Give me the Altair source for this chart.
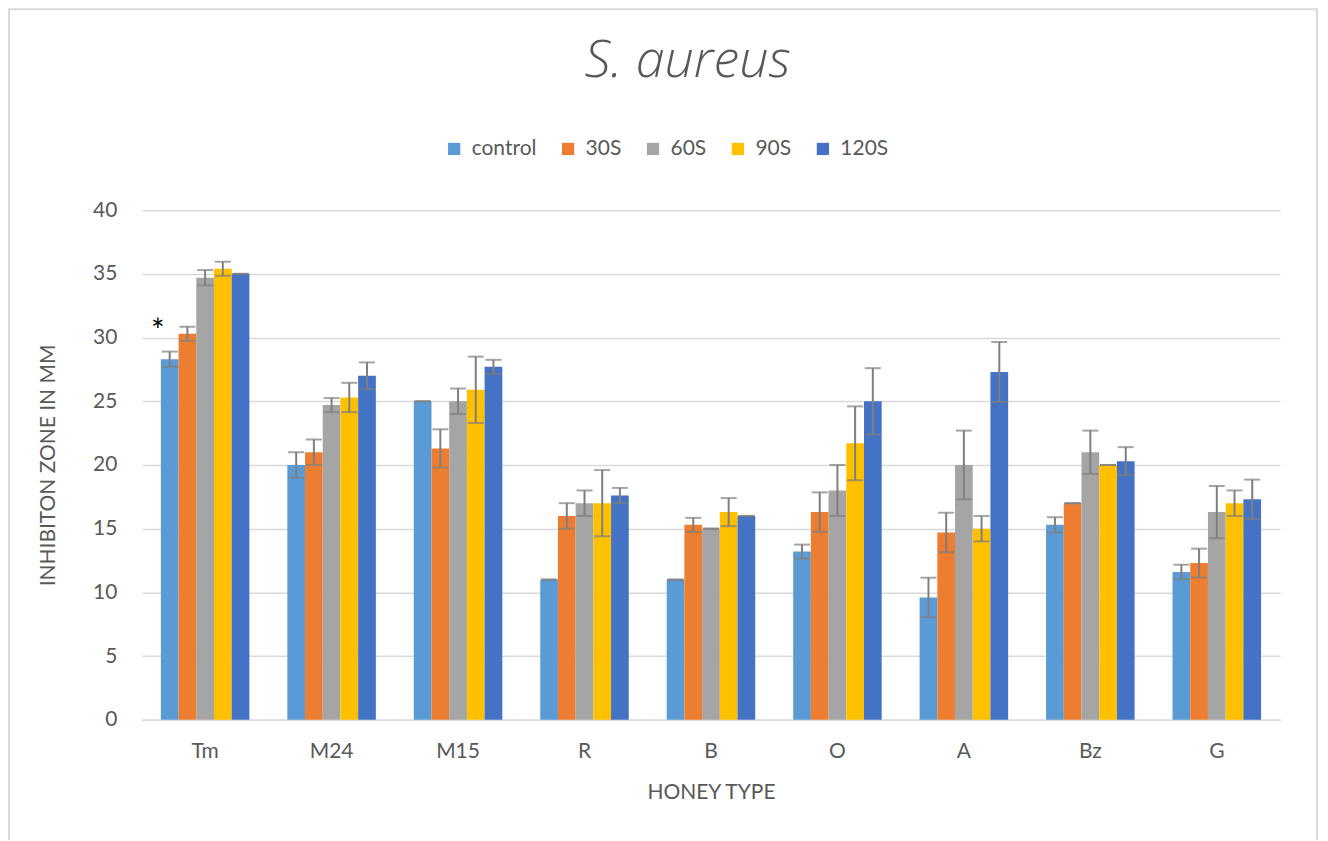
import altair as alt
import pandas as pd

honey = ["Tm", "M24", "M15", "R", "B", "O", "A", "Bz", "G"]
series = ["control", "30S", "60S", "90S", "120S"]
colors = ["#5B9BD5", "#ED7D31", "#A5A5A5", "#FFC000", "#4472C4"]

control = [28.3, 20.0, 25.0, 11.0, 11.0, 13.2, 9.6, 15.3, 11.6]
s30 = [30.3, 21.0, 21.3, 16.0, 15.3, 16.3, 14.7, 17.0, 12.3]
s60 = [34.7, 24.7, 25.0, 17.0, 15.0, 18.0, 20.0, 21.0, 16.3]
s90 = [35.4, 25.3, 25.9, 17.0, 16.3, 21.7, 15.0, 20.0, 17.0]
s120 = [35.0, 27.0, 27.7, 17.6, 16.0, 25.0, 27.3, 20.3, 17.3]

err_control = [0.6, 1.0, 0.0, 0.0, 0.0, 0.55, 1.55, 0.6, 0.57]
err_30 = [0.55, 1.0, 1.5, 1.0, 0.55, 1.55, 1.55, 0.0, 1.13]
err_60 = [0.6, 0.55, 1.0, 1.0, 0.0, 2.0, 2.7, 1.7, 2.05]
err_90 = [0.55, 1.15, 2.6, 2.6, 1.1, 2.9, 1.0, 0.0, 1.0]
err_120 = [0.0, 1.05, 0.55, 0.6, 0.0, 2.6, 2.35, 1.1, 1.55]

annot_honey = ["Tm"]
annot_series = ["control"]
annot_y = [31.1]
annot_text = ["*"]

title_text = "S. aureus"
y_title = "INHIBITON ZONE IN MM"
x_title = "HONEY TYPE"

vals = [control, s30, s60, s90, s120]
errs = [err_control, err_30, err_60, err_90, err_120]
rows = []
for s, v, e in zip(series, vals, errs):
    for h, vv, ee in zip(honey, v, e):
        rows.append({"honey": h, "series": s, "value": vv,
                     "lo": vv - ee, "hi": vv + ee})
df = pd.DataFrame(rows)
adf = pd.DataFrame({"honey": annot_honey, "series": annot_series,
                    "y": annot_y, "text": annot_text})

FONT = "Lato"
GREY = "#595959"
FS = 21

x_enc = alt.X("honey:N", sort=honey,
              scale=alt.Scale(paddingInner=0.3, paddingOuter=0.15),
              axis=alt.Axis(title=x_title, labelAngle=0, labelFontSize=FS,
                            labelColor=GREY, labelPadding=21, ticks=False,
                            domainColor="#d9d9d9", domainWidth=1.5,
                            titleFontSize=FS, titleFontWeight="normal",
                            titleColor=GREY, titlePadding=20,
                            labelFont=FONT, titleFont=FONT))
xo_enc = alt.XOffset("series:N", sort=series, scale=alt.Scale(paddingInner=0, paddingOuter=0))

base = alt.Chart(df)

bars = base.mark_bar().encode(
    x=x_enc,
    xOffset=xo_enc,
    y=alt.Y("value:Q", scale=alt.Scale(domain=[0, 40]),
            axis=alt.Axis(title=y_title, values=list(range(0, 41, 5)),
                          labelFontSize=FS, labelColor=GREY, labelPadding=25,
                          ticks=False, domain=False, gridColor="#d9d9d9",
                          gridWidth=1.5, titleFontSize=FS,
                          titleFontWeight="normal", titleColor=GREY,
                          titlePadding=34, labelFont=FONT, titleFont=FONT)),
    color=alt.Color("series:N", sort=series,
                    scale=alt.Scale(domain=series, range=colors),
                    legend=alt.Legend(title=None, orient="none",
                                      direction="horizontal", columns=5,
                                      legendX=302, legendY=-72,
                                      symbolType="square", symbolSize=150,
                                      symbolStrokeWidth=0,
                                      labelFontSize=FS, labelColor=GREY,
                                      labelFont=FONT, columnPadding=21,
                                      labelOffset=7)),
)

rules = base.mark_rule(color="#7F7F7F", strokeWidth=2).encode(
    x=alt.X("honey:N", sort=honey), xOffset=alt.XOffset("series:N", sort=series),
    y="lo:Q", y2="hi:Q")
caps_hi = base.mark_tick(color="#7F7F7F", thickness=2, size=16).encode(
    x=alt.X("honey:N", sort=honey), xOffset=alt.XOffset("series:N", sort=series),
    y="hi:Q")
caps_lo = base.mark_tick(color="#7F7F7F", thickness=2, size=16).encode(
    x=alt.X("honey:N", sort=honey), xOffset=alt.XOffset("series:N", sort=series),
    y="lo:Q")

star = alt.Chart(adf).mark_text(fontSize=32, color="black", dx=-12, dy=8,
                                baseline="middle", font=FONT).encode(
    x=alt.X("honey:N", sort=honey), xOffset=alt.XOffset("series:N", sort=series),
    y="y:Q", text="text:N")

title = alt.Chart(alt.Data(values=[{"t": title_text}])).mark_text(
    fontSize=52, fontStyle="italic", fontWeight=300, color=GREY,
    font="Open Sans", align="center", baseline="alphabetic").encode(
    text="t:N", x=alt.value(546), y=alt.value(-133))

frame = alt.Chart(alt.Data(values=[{}])).mark_rect(
    fillOpacity=0, stroke="#d9d9d9", strokeWidth=2).encode(
    x=alt.value(-133), x2=alt.value(1176), y=alt.value(-201), y2=alt.value(700))

chart = alt.layer(frame, bars, rules, caps_hi, caps_lo, star, title).properties(
    width=1139, height=510,
    padding={"left": 134, "top": 202, "right": 40, "bottom": 120},
    autosize=alt.AutoSizeParams(type="none"),
).configure_view(stroke=None)

chart.save("out.html", embed_options={"renderer": "svg", "actions": False})
